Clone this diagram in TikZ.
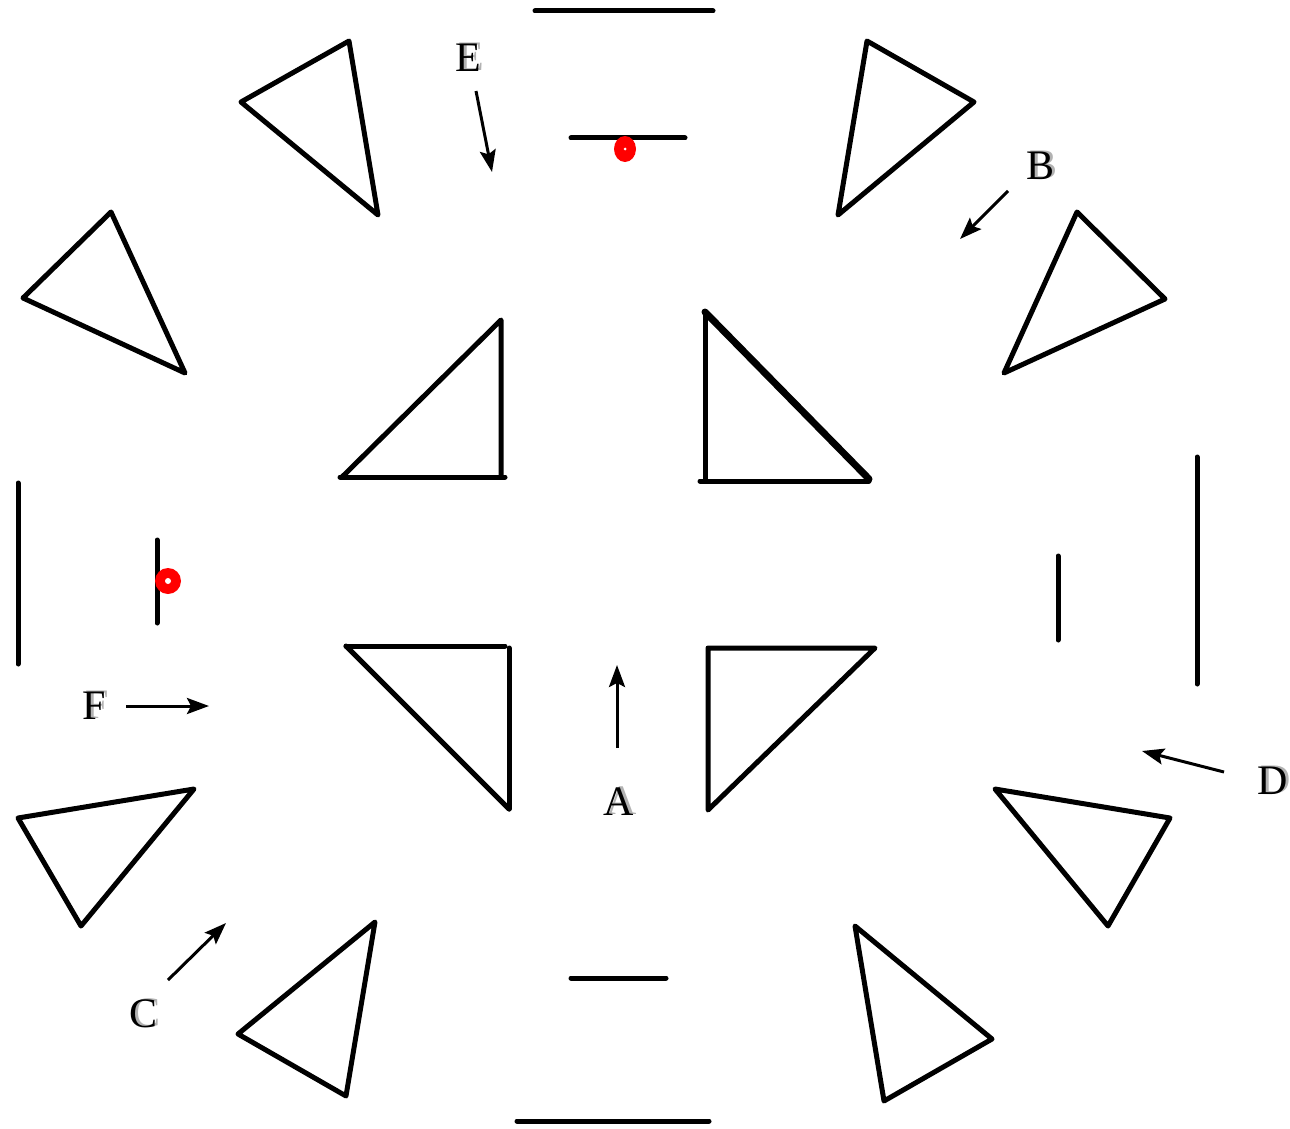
\documentclass[tikz,border=0pt]{standalone}
\usepackage{fontspec}
\setmainfont{Liberation Serif}
\usetikzlibrary{arrows.meta}
\newcommand{\shadowed}[1]{\rlap{\hspace{3pt}\raisebox{1pt}{\textcolor{black!30}{#1}}}#1}
\begin{document}
\begin{tikzpicture}[x=1pt,y=-1pt,
  shp/.style={line width=5pt,line join=round,line cap=round},
  bar/.style={line width=5pt,line cap=round},
  arr/.style={line width=3pt,-{Stealth[length=22pt,width=16pt,inset=4pt]}},
  lbl/.style={font=\fontsize{42}{42}\selectfont,inner sep=0pt},
  dot/.style={fill=red,draw=none}]
\useasboundingbox (0,0) rectangle (1290,1129);
% bars
\draw[bar] (535,11) -- (713,11);
\draw[bar] (571,138) -- (685,138);
\draw[bar] (571,978) -- (666,978);
\draw[bar] (517,1121) -- (709,1121);
\draw[bar] (18,483) -- (18,664);
\draw[bar] (157,540) -- (157,623);
\draw[bar] (1197,457) -- (1197,684);
\draw[bar] (1058,556) -- (1058,640);
% red dots
\fill[dot] (625,149) ellipse [x radius=11, y radius=13];
\fill[white] (625,149) circle (1.5);
\fill[dot] (168,581) circle (13);
\fill[white] (168,581) circle (3);
% outer triangles
\draw[shp] (241,102) -- (349,41) -- (378,215) -- cycle;
\draw[shp] (867,41) -- (974,102) -- (838,215) -- cycle;
\draw[shp] (23,298) -- (111,212) -- (185,373) -- cycle;
\draw[shp] (1077,212) -- (1165,299) -- (1004,373) -- cycle;
\draw[shp] (18,818) -- (194,789) -- (81,926) -- cycle;
\draw[shp] (995,789) -- (1170,818) -- (1108,926) -- cycle;
\draw[shp] (238,1034) -- (375,922) -- (346,1096) -- cycle;
\draw[shp] (855,926) -- (992,1039) -- (884,1101) -- cycle;
% inner triangles
\draw[shp] (342,477) -- (501,320) -- (501,477);
\draw[shp] (340,477) -- (505,477);
\draw[shp] (705,312) -- (705,481);
\draw[shp] (700,481) -- (869,481);
\draw[line width=7pt,line cap=round] (705,312) -- (869,479);
\draw[shp] (346,646) -- (505,646);
\draw[shp] (509,648) -- (509,809);
\draw[shp] (346,646) -- (509,809);
\draw[shp] (708,810) -- (708,648) -- (875,648) -- cycle;
% arrow end points
\coordinate (e1) at (476,91);  \coordinate (e2) at (492,172);
\coordinate (b1) at (1008,191); \coordinate (b2) at (960,239);
\coordinate (a1) at (617,748); \coordinate (a2) at (617,665);
\coordinate (f1) at (126,706); \coordinate (f2) at (209,706);
\coordinate (d1) at (1224,772); \coordinate (d2) at (1142,751);
\coordinate (c1) at (168,980); \coordinate (c2) at (226,923);
\draw[arr] (e1) -- (e2);
\draw[arr] (b1) -- (b2);
\draw[arr] (a1) -- (a2);
\draw[arr] (f1) -- (f2);
\draw[arr] (d1) -- (d2);
\draw[arr] (c1) -- (c2);
% labels with shadow
\foreach \n/\t/\x/\y in {E/E/468/57, B/B/1040/165, A/A/619/801, F/F/94/705, D/D/1273/780, C/C/144/1013}{
  \node[lbl] (\n) at (\x,\y) {\shadowed{\t}};
}
\end{tikzpicture}
\end{document}
